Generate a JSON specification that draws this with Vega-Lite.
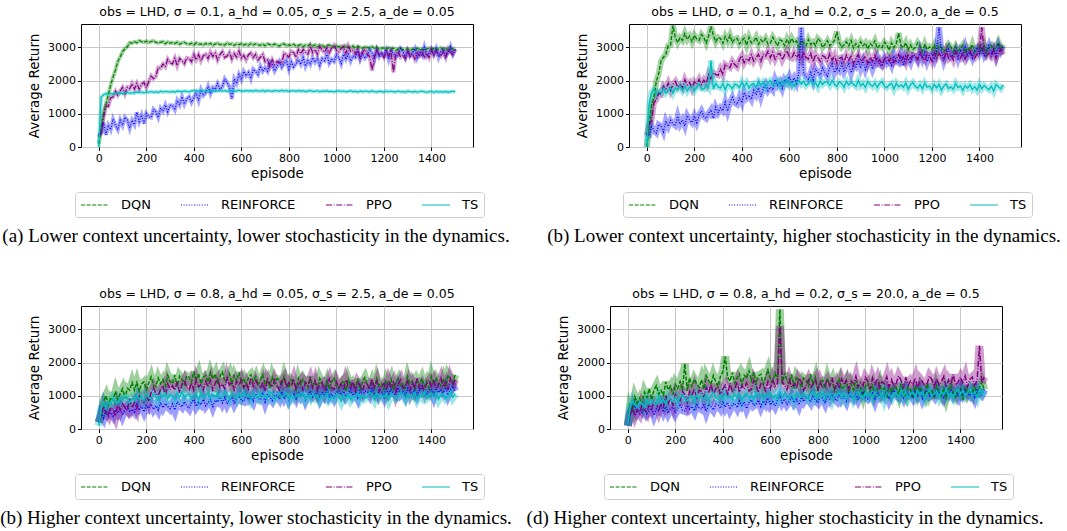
{
"$schema":"https://vega.github.io/schema/vega-lite/v6.json",
"padding":{"left":0,"top":5,"right":0,"bottom":0},
"background":"white",
"datasets":{
"a":[
{"e":0,"D":100,"R":350,"P":300,"T":0},{"e":10,"D":580,"R":425,"P":430,"T":1508},{"e":20,"D":1032,"R":730,"P":910,"T":1568},{"e":30,"D":1292,"R":368,"P":1235,"T":1606},{"e":40,"D":1572,"R":657,"P":1225,"T":1591},{"e":50,"D":1866,"R":520,"P":1480,"T":1602},{"e":60,"D":2104,"R":836,"P":1505,"T":1590},{"e":70,"D":2314,"R":652,"P":1680,"T":1618},{"e":80,"D":2574,"R":518,"P":1560,"T":1606},{"e":90,"D":2708,"R":809,"P":1685,"T":1628},
{"e":100,"D":2870,"R":650,"P":1795,"T":1602},{"e":110,"D":2956,"R":895,"P":1601,"T":1627},{"e":120,"D":3016,"R":815,"P":1797,"T":1640},{"e":130,"D":3136,"R":560,"P":1753,"T":1621},{"e":140,"D":3124,"R":805,"P":1904,"T":1632},{"e":150,"D":3168,"R":675,"P":1740,"T":1623},{"e":160,"D":3138,"R":1045,"P":1910,"T":1656},{"e":170,"D":3198,"R":765,"P":1735,"T":1639},{"e":180,"D":3170,"R":960,"P":1890,"T":1650},{"e":190,"D":3150,"R":705,"P":1940,"T":1631},
{"e":200,"D":3186,"R":1008,"P":1780,"T":1658},{"e":210,"D":3138,"R":912,"P":1965,"T":1648},{"e":220,"D":3175,"R":888,"P":2135,"T":1665},{"e":230,"D":3192,"R":1134,"P":2055,"T":1645},{"e":240,"D":3148,"R":1056,"P":2125,"T":1660},{"e":250,"D":3129,"R":888,"P":2390,"T":1644},{"e":260,"D":3153,"R":1170,"P":2370,"T":1675},{"e":270,"D":3166,"R":1074,"P":2495,"T":1655},{"e":280,"D":3106,"R":1266,"P":2410,"T":1672},{"e":290,"D":3163,"R":1062,"P":2645,"T":1662},
{"e":300,"D":3123,"R":1254,"P":2535,"T":1653},{"e":310,"D":3140,"R":1248,"P":2500,"T":1673},{"e":320,"D":3112,"R":1116,"P":2675,"T":1650},{"e":330,"D":3153,"R":1398,"P":2445,"T":1684},{"e":340,"D":3089,"R":1266,"P":2665,"T":1673},{"e":350,"D":3130,"R":1512,"P":2600,"T":1665},{"e":360,"D":3150,"R":1290,"P":2505,"T":1686},{"e":370,"D":3107,"R":1446,"P":2680,"T":1672},{"e":380,"D":3087,"R":1512,"P":2660,"T":1661},{"e":390,"D":3120,"R":1344,"P":2565,"T":1687},
{"e":400,"D":3076,"R":1500,"P":2785,"T":1698},{"e":410,"D":3131,"R":1620,"P":2625,"T":1671},{"e":420,"D":3091,"R":1398,"P":2780,"T":1686},{"e":430,"D":3102,"R":1716,"P":2590,"T":1676},{"e":440,"D":3069,"R":1548,"P":2745,"T":1697},{"e":450,"D":3117,"R":1632,"P":2795,"T":1672},{"e":460,"D":3084,"R":1824,"P":2660,"T":1685},{"e":470,"D":3119,"R":1602,"P":2855,"T":1696},{"e":480,"D":3059,"R":1794,"P":2720,"T":1668},{"e":490,"D":3102,"R":1734,"P":2825,"T":1693},
{"e":500,"D":3121,"R":1908,"P":2615,"T":1686},{"e":510,"D":3077,"R":1740,"P":2780,"T":1704},{"e":520,"D":3092,"R":1806,"P":2870,"T":1680},{"e":530,"D":3067,"R":2052,"P":2690,"T":1700},{"e":540,"D":3127,"R":1938,"P":2735,"T":1674},{"e":550,"D":3086,"R":1806,"P":2840,"T":1692},{"e":560,"D":3101,"R":1450,"P":2645,"T":1696},{"e":570,"D":3057,"R":2046,"P":2810,"T":1672},{"e":580,"D":3104,"R":1914,"P":2705,"T":1690},{"e":590,"D":3079,"R":2178,"P":2885,"T":1706},
{"e":600,"D":3111,"R":2028,"P":2675,"T":1682},{"e":610,"D":3066,"R":2274,"P":2759,"T":1678},{"e":620,"D":3093,"R":2142,"P":2618,"T":1700},{"e":630,"D":3057,"R":2244,"P":2776,"T":1684},{"e":640,"D":3116,"R":2058,"P":2830,"T":1694},{"e":650,"D":3071,"R":2340,"P":2689,"T":1676},{"e":660,"D":3103,"R":2270,"P":2788,"T":1704},{"e":670,"D":3078,"R":2182,"P":2616,"T":1686},{"e":680,"D":3057,"R":2436,"P":2700,"T":1680},{"e":690,"D":3093,"R":2276,"P":2783,"T":1702},
{"e":700,"D":3044,"R":2386,"P":2565,"T":1670},{"e":710,"D":3107,"R":2280,"P":2618,"T":1698},{"e":720,"D":3081,"R":2552,"P":2415,"T":1688},{"e":730,"D":3060,"R":2482,"P":2627,"T":1674},{"e":740,"D":3098,"R":2286,"P":2480,"T":1696},{"e":750,"D":3065,"R":2414,"P":2572,"T":1692},{"e":760,"D":3039,"R":2568,"P":2545,"T":1678},{"e":770,"D":3086,"R":2398,"P":2525,"T":1706},{"e":780,"D":3104,"R":2498,"P":2820,"T":1682},{"e":790,"D":3047,"R":2616,"P":2770,"T":1700},
{"e":800,"D":3073,"R":2338,"P":2703,"T":1672},{"e":810,"D":3052,"R":2562,"P":2877,"T":1689},{"e":820,"D":3090,"R":2408,"P":2840,"T":1692},{"e":830,"D":3037,"R":2506,"P":2698,"T":1673},{"e":840,"D":3059,"R":2622,"P":2932,"T":1699},{"e":850,"D":3078,"R":2486,"P":2805,"T":1680},{"e":860,"D":3020,"R":2692,"P":2935,"T":1693},{"e":870,"D":3067,"R":2430,"P":2855,"T":1664},{"e":880,"D":3049,"R":2600,"P":2790,"T":1686},{"e":890,"D":3084,"R":2482,"P":3025,"T":1697},
{"e":900,"D":3034,"R":2688,"P":2840,"T":1672},{"e":910,"D":3072,"R":2551,"P":2935,"T":1677},{"e":920,"D":3017,"R":2666,"P":2790,"T":1691},{"e":930,"D":3051,"R":2457,"P":3020,"T":1664},{"e":940,"D":3056,"R":2662,"P":2920,"T":1685},{"e":950,"D":3006,"R":2597,"P":2850,"T":1670},{"e":960,"D":3039,"R":2784,"P":2990,"T":1694},{"e":970,"D":3069,"R":2521,"P":2830,"T":1665},{"e":980,"D":3018,"R":2636,"P":2985,"T":1677},{"e":990,"D":3008,"R":2571,"P":3065,"T":1659},
{"e":1000,"D":3049,"R":2776,"P":2920,"T":1681},{"e":1010,"D":3015,"R":2696,"P":2860,"T":1689},{"e":1020,"D":3032,"R":2508,"P":2965,"T":1670},{"e":1030,"D":2994,"R":2788,"P":3025,"T":1684},{"e":1040,"D":3047,"R":2636,"P":2815,"T":1662},{"e":1050,"D":3009,"R":2790,"P":3040,"T":1673},{"e":1060,"D":2994,"R":2584,"P":2875,"T":1689},{"e":1070,"D":3036,"R":2738,"P":2920,"T":1665},{"e":1080,"D":2969,"R":2694,"P":2800,"T":1676},{"e":1090,"D":3023,"R":2884,"P":2935,"T":1654},
{"e":1100,"D":3000,"R":2642,"P":2680,"T":1684},{"e":1110,"D":2969,"R":2827,"P":2845,"T":1665},{"e":1120,"D":3009,"R":2670,"P":2935,"T":1679},{"e":1130,"D":2998,"R":2747,"P":2785,"T":1677},{"e":1140,"D":2966,"R":2932,"P":2725,"T":1660},{"e":1150,"D":3019,"R":2829,"P":2300,"T":1686},{"e":1160,"D":2967,"R":2636,"P":2710,"T":1666},{"e":1170,"D":3000,"R":2911,"P":2920,"T":1655},{"e":1180,"D":2940,"R":2718,"P":2770,"T":1677},{"e":1190,"D":2973,"R":2831,"P":2815,"T":1671},
{"e":1200,"D":2977,"R":2746,"P":2695,"T":1650},{"e":1210,"D":2938,"R":2910,"P":2870,"T":1680},{"e":1220,"D":2986,"R":2642,"P":2745,"T":1662},{"e":1230,"D":2947,"R":2896,"P":2875,"T":1677},{"e":1240,"D":2971,"R":2826,"P":2250,"T":1665},{"e":1250,"D":2912,"R":2702,"P":2805,"T":1655},{"e":1260,"D":2952,"R":2776,"P":2875,"T":1684},{"e":1270,"D":2973,"R":2958,"P":2705,"T":1658},{"e":1280,"D":2921,"R":2870,"P":2760,"T":1670},{"e":1290,"D":2930,"R":2692,"P":2665,"T":1649},
{"e":1300,"D":2954,"R":2892,"P":2885,"T":1679},{"e":1310,"D":2904,"R":2733,"P":2740,"T":1665},{"e":1320,"D":2949,"R":2826,"P":2805,"T":1654},{"e":1330,"D":2923,"R":2955,"P":2645,"T":1672},{"e":1340,"D":2972,"R":2688,"P":2830,"T":1650},{"e":1350,"D":2918,"R":2871,"P":2745,"T":1669},{"e":1360,"D":2943,"R":2766,"P":2870,"T":1679},{"e":1370,"D":2909,"R":3003,"P":2710,"T":1659},{"e":1380,"D":2954,"R":2736,"P":2820,"T":1650},{"e":1390,"D":2972,"R":2829,"P":2690,"T":1664},
{"e":1400,"D":2937,"R":2940,"P":2920,"T":1672},{"e":1410,"D":2967,"R":2799,"P":2760,"T":1644},{"e":1420,"D":2924,"R":2964,"P":2885,"T":1673},{"e":1430,"D":2950,"R":2697,"P":2800,"T":1655},{"e":1440,"D":2983,"R":2880,"P":2730,"T":1665},{"e":1450,"D":2937,"R":2937,"P":2870,"T":1653},{"e":1460,"D":2962,"R":2742,"P":2695,"T":1674},{"e":1470,"D":2920,"R":2835,"P":2940,"T":1644},{"e":1480,"D":2981,"R":3018,"P":2855,"T":1666},{"e":1490,"D":2947,"R":2787,"P":2785,"T":1678},
{"e":1500,"D":2976,"R":2934,"P":2940,"T":1658}
],
"b":[
{"e":0,"D":0,"R":350,"P":350,"T":0},{"e":10,"D":670,"R":350,"P":664,"T":1304},{"e":20,"D":1260,"R":647,"P":804,"T":1648},{"e":30,"D":1510,"R":485,"P":1328,"T":1725},{"e":40,"D":1970,"R":422,"P":1418,"T":1573},{"e":50,"D":2210,"R":680,"P":1616,"T":1674},{"e":60,"D":2580,"R":640,"P":1588,"T":1628},{"e":70,"D":2700,"R":460,"P":1830,"T":1762},{"e":80,"D":2790,"R":780,"P":1752,"T":1620},{"e":90,"D":3050,"R":620,"P":1921,"T":1706},
{"e":100,"D":3070,"R":800,"P":1706,"T":1780},{"e":110,"D":3650,"R":700,"P":1887,"T":1618},{"e":120,"D":3295,"R":640,"P":1972,"T":1768},{"e":130,"D":3140,"R":925,"P":1801,"T":1726},{"e":140,"D":3285,"R":680,"P":1870,"T":1840},{"e":150,"D":3205,"R":815,"P":1779,"T":1702},{"e":160,"D":3413,"R":630,"P":2024,"T":1828},{"e":170,"D":3231,"R":945,"P":1869,"T":1678},{"e":180,"D":3334,"R":820,"P":1938,"T":1792},{"e":190,"D":3167,"R":735,"P":1767,"T":1822},
{"e":200,"D":3360,"R":930,"P":1964,"T":1684},{"e":210,"D":3253,"R":735,"P":1888,"T":1796},{"e":220,"D":3206,"R":960,"P":2036,"T":1896},{"e":230,"D":3384,"R":1085,"P":1880,"T":1756},{"e":240,"D":3292,"R":910,"P":2012,"T":1736},{"e":250,"D":3125,"R":855,"P":1888,"T":1872},{"e":260,"D":3333,"R":1020,"P":2178,"T":1780},{"e":270,"D":3626,"R":1125,"P":2052,"T":2600},{"e":280,"D":3359,"R":870,"P":2230,"T":1740},{"e":290,"D":3162,"R":1195,"P":2184,"T":1912},
{"e":300,"D":3295,"R":1040,"P":2154,"T":1808},{"e":310,"D":3260,"R":1175,"P":2338,"T":1775},{"e":320,"D":3120,"R":1090,"P":2186,"T":1910},{"e":330,"D":3325,"R":1345,"P":2482,"T":1721},{"e":340,"D":3185,"R":1080,"P":2426,"T":1892},{"e":350,"D":3360,"R":1335,"P":2386,"T":1835},{"e":360,"D":3145,"R":1490,"P":2576,"T":1754},{"e":370,"D":3245,"R":1325,"P":2478,"T":1889},{"e":380,"D":3270,"R":1280,"P":2412,"T":1868},{"e":390,"D":3100,"R":1495,"P":2634,"T":1787},
{"e":400,"D":3200,"R":1330,"P":2744,"T":1958},{"e":410,"D":3273,"R":1640,"P":2535,"T":1819},{"e":420,"D":3060,"R":1470,"P":2662,"T":1932},{"e":430,"D":3298,"R":1560,"P":2597,"T":1769},{"e":440,"D":3130,"R":1430,"P":2772,"T":1882},{"e":450,"D":3173,"R":1700,"P":2579,"T":1911},{"e":460,"D":3305,"R":1570,"P":2690,"T":1808},{"e":470,"D":3093,"R":1780,"P":2785,"T":1969},{"e":480,"D":3225,"R":1510,"P":2576,"T":1866},{"e":490,"D":3148,"R":1760,"P":2783,"T":1955},
{"e":500,"D":3265,"R":1890,"P":2734,"T":1792},{"e":510,"D":3098,"R":1695,"P":2878,"T":1926},{"e":520,"D":3125,"R":1800,"P":2686,"T":2000},{"e":530,"D":3303,"R":1705,"P":2846,"T":1858},{"e":540,"D":3180,"R":2030,"P":2638,"T":1896},{"e":550,"D":3043,"R":1855,"P":2782,"T":1982},{"e":560,"D":3220,"R":1960,"P":2814,"T":1828},{"e":570,"D":3188,"R":1765,"P":2622,"T":1962},{"e":580,"D":3050,"R":2030,"P":2766,"T":1880},{"e":590,"D":3243,"R":1935,"P":2894,"T":2026},
{"e":600,"D":3090,"R":2120,"P":2702,"T":1860},{"e":610,"D":3268,"R":1920,"P":2665,"T":1932},{"e":620,"D":3130,"R":2080,"P":2836,"T":1823},{"e":630,"D":3188,"R":1920,"P":2703,"T":1955},{"e":640,"D":3005,"R":2240,"P":2778,"T":2002},{"e":650,"D":3213,"R":3600,"P":2629,"T":1894},{"e":660,"D":3135,"R":2220,"P":2848,"T":1977},{"e":670,"D":3043,"R":2120,"P":2699,"T":1845},{"e":680,"D":3235,"R":2040,"P":2646,"T":1916},{"e":690,"D":3083,"R":2240,"P":2817,"T":2012},
{"e":700,"D":3155,"R":2020,"P":2556,"T":1867},{"e":710,"D":3048,"R":2355,"P":2775,"T":1938},{"e":720,"D":3255,"R":2250,"P":2690,"T":1806},{"e":730,"D":3178,"R":2165,"P":2573,"T":1985},{"e":740,"D":2995,"R":2380,"P":2744,"T":1877},{"e":750,"D":3083,"R":2235,"P":2707,"T":1960},{"e":760,"D":3200,"R":2130,"P":2590,"T":1948},{"e":770,"D":3048,"R":2385,"P":2809,"T":1851},{"e":780,"D":3120,"R":2500,"P":2612,"T":2007},{"e":790,"D":3208,"R":2235,"P":2751,"T":1886},
{"e":800,"D":3465,"R":2390,"P":2522,"T":1826},{"e":810,"D":3143,"R":2300,"P":2666,"T":1956},{"e":820,"D":3005,"R":2510,"P":2698,"T":1918},{"e":830,"D":3078,"R":2260,"P":2554,"T":1796},{"e":840,"D":3165,"R":2390,"P":2762,"T":1974},{"e":850,"D":3043,"R":2500,"P":2618,"T":1864},{"e":860,"D":3205,"R":2230,"P":2730,"T":1958},{"e":870,"D":2978,"R":2480,"P":2506,"T":1884},{"e":880,"D":3110,"R":2410,"P":2682,"T":1822},{"e":890,"D":3003,"R":2600,"P":2778,"T":2000},
{"e":900,"D":3165,"R":2370,"P":2586,"T":1842},{"e":910,"D":3043,"R":2580,"P":2629,"T":1912},{"e":920,"D":3130,"R":2330,"P":2736,"T":1790},{"e":930,"D":2948,"R":2520,"P":2523,"T":1968},{"e":940,"D":3110,"R":2570,"P":2694,"T":1882},{"e":950,"D":3048,"R":2340,"P":2577,"T":1820},{"e":960,"D":3195,"R":2530,"P":2764,"T":1926},{"e":970,"D":2968,"R":2700,"P":2535,"T":1792},{"e":980,"D":3055,"R":2470,"P":2626,"T":1910},{"e":990,"D":2993,"R":2440,"P":2477,"T":1968},
{"e":1000,"D":3155,"R":2670,"P":2648,"T":1836},{"e":1010,"D":3077,"R":2520,"P":2722,"T":1786},{"e":1020,"D":2908,"R":2630,"P":2588,"T":1868},{"e":1030,"D":3130,"R":2460,"P":2710,"T":1914},{"e":1040,"D":2991,"R":2750,"P":2544,"T":1744},{"e":1050,"D":3108,"R":2580,"P":2650,"T":1922},{"e":1060,"D":3424,"R":2530,"P":2788,"T":1812},{"e":1070,"D":3041,"R":2760,"P":2606,"T":1870},{"e":1080,"D":2992,"R":2450,"P":2712,"T":1796},{"e":1090,"D":3139,"R":2740,"P":2546,"T":1926},
{"e":1100,"D":2925,"R":2650,"P":2796,"T":1744},{"e":1110,"D":3072,"R":2520,"P":2654,"T":1874},{"e":1120,"D":2933,"R":2750,"P":2769,"T":1944},{"e":1130,"D":2990,"R":2720,"P":2755,"T":1822},{"e":1140,"D":3136,"R":2590,"P":2630,"T":1772},{"e":1150,"D":3043,"R":2880,"P":2840,"T":1878},{"e":1160,"D":2874,"R":2650,"P":2683,"T":1756},{"e":1170,"D":3096,"R":2840,"P":2605,"T":1922},{"e":1180,"D":2927,"R":2570,"P":2784,"T":1800},{"e":1190,"D":3014,"R":2760,"P":2738,"T":1834},
{"e":1200,"D":2935,"R":2810,"P":2581,"T":1736},{"e":1210,"D":3069,"R":2635,"P":2823,"T":1878},{"e":1220,"D":2842,"R":2900,"P":2682,"T":1781},{"e":1230,"D":3051,"R":3600,"P":2812,"T":1887},{"e":1240,"D":2989,"R":2870,"P":2719,"T":1706},{"e":1250,"D":2883,"R":2595,"P":2641,"T":1836},{"e":1260,"D":2941,"R":2820,"P":2884,"T":1895},{"e":1270,"D":3090,"R":2945,"P":2678,"T":1761},{"e":1280,"D":3013,"R":2710,"P":2777,"T":1808},{"e":1290,"D":2862,"R":2775,"P":2619,"T":1734},
{"e":1300,"D":3025,"R":2920,"P":2862,"T":1913},{"e":1310,"D":2889,"R":2665,"P":2752,"T":1791},{"e":1320,"D":2962,"R":2890,"P":2675,"T":1838},{"e":1330,"D":3066,"R":2755,"P":2821,"T":1704},{"e":1340,"D":2839,"R":3000,"P":2648,"T":1847},{"e":1350,"D":2988,"R":2725,"P":2810,"T":1773},{"e":1360,"D":2896,"R":2850,"P":2893,"T":1868},{"e":1370,"D":3090,"R":2675,"P":2735,"T":1734},{"e":1380,"D":2863,"R":2900,"P":2674,"T":1817},{"e":1390,"D":2937,"R":2985,"P":2788,"T":1707},
{"e":1400,"D":3025,"R":2810,"P":2855,"T":1886},{"e":1410,"D":2915,"R":2960,"P":3600,"T":1755},{"e":1420,"D":3060,"R":2750,"P":2876,"T":1852},{"e":1430,"D":2845,"R":2880,"P":2734,"T":1781},{"e":1440,"D":3005,"R":3050,"P":2817,"T":1722},{"e":1450,"D":3060,"R":2820,"P":2723,"T":1831},{"e":1460,"D":2905,"R":2950,"P":2902,"T":1688},{"e":1470,"D":2990,"R":2740,"P":2664,"T":1881},{"e":1480,"D":3150,"R":3050,"P":2843,"T":1810},{"e":1490,"D":2965,"R":2880,"P":2941,"T":1751},
{"e":1500,"D":3095,"R":3030,"P":2784,"T":1872}
],
"c":[
{"e":0,"D":200,"R":200,"P":200,"T":100},{"e":10,"D":424,"R":460,"P":390,"T":611},{"e":20,"D":838,"R":330,"P":688,"T":798},{"e":30,"D":998,"R":560,"P":481,"T":630},{"e":40,"D":740,"R":430,"P":383,"T":799},{"e":50,"D":944,"R":495,"P":638,"T":748},{"e":60,"D":874,"R":389,"P":592,"T":920},{"e":70,"D":1134,"R":583,"P":392,"T":832},{"e":80,"D":888,"R":477,"P":742,"T":770},{"e":90,"D":1060,"R":626,"P":564,"T":929},
{"e":100,"D":1210,"R":415,"P":760,"T":854},{"e":110,"D":932,"R":590,"P":648,"T":978},{"e":120,"D":1226,"R":675,"P":558,"T":933},{"e":130,"D":1168,"R":520,"P":908,"T":797},{"e":140,"D":1396,"R":590,"P":642,"T":921},{"e":150,"D":1162,"R":510,"P":794,"T":850},{"e":160,"D":1402,"R":745,"P":614,"T":1039},{"e":170,"D":1136,"R":605,"P":984,"T":890},{"e":180,"D":1354,"R":675,"P":870,"T":988},{"e":190,"D":1418,"R":520,"P":800,"T":852},
{"e":200,"D":1174,"R":710,"P":1038,"T":1028},{"e":210,"D":1382,"R":625,"P":836,"T":942},{"e":220,"D":1568,"R":750,"P":1096,"T":908},{"e":230,"D":1314,"R":590,"P":1246,"T":1069},{"e":240,"D":1280,"R":700,"P":1066,"T":996},{"e":250,"D":1532,"R":570,"P":1018,"T":858},{"e":260,"D":1366,"R":800,"P":1192,"T":1045},{"e":270,"D":1486,"R":640,"P":1300,"T":959},{"e":280,"D":1298,"R":765,"P":1012,"T":1081},{"e":290,"D":1616,"R":680,"P":1362,"T":917},
{"e":300,"D":1428,"R":610,"P":1184,"T":1039},{"e":310,"D":1370,"R":750,"P":1299,"T":1013},{"e":320,"D":1620,"R":575,"P":1172,"T":896},{"e":330,"D":1276,"R":820,"P":1419,"T":1078},{"e":340,"D":1592,"R":735,"P":1094,"T":961},{"e":350,"D":1490,"R":665,"P":1341,"T":1117},{"e":360,"D":1344,"R":820,"P":1478,"T":935},{"e":370,"D":1594,"R":705,"P":1263,"T":1026},{"e":380,"D":1558,"R":620,"P":1180,"T":1052},{"e":390,"D":1412,"R":805,"P":1383,"T":909},
{"e":400,"D":1728,"R":885,"P":1168,"T":1000},{"e":410,"D":1466,"R":683,"P":1481,"T":1065},{"e":420,"D":1666,"R":796,"P":1266,"T":883},{"e":430,"D":1360,"R":729,"P":1337,"T":1091},{"e":440,"D":1560,"R":887,"P":1166,"T":948},{"e":450,"D":1606,"R":700,"P":1435,"T":987},{"e":460,"D":1410,"R":798,"P":1264,"T":1104},{"e":470,"D":1698,"R":881,"P":1467,"T":922},{"e":480,"D":1502,"R":679,"P":1142,"T":1039},{"e":490,"D":1658,"R":867,"P":1389,"T":974},
{"e":500,"D":1352,"R":815,"P":1504,"T":1078},{"e":510,"D":1589,"R":957,"P":1262,"T":935},{"e":520,"D":1716,"R":784,"P":1350,"T":961},{"e":530,"D":1447,"R":941,"P":1218,"T":1117},{"e":540,"D":1508,"R":753,"P":1548,"T":1013},{"e":550,"D":1657,"R":895,"P":1328,"T":896},{"e":560,"D":1366,"R":932,"P":1416,"T":1052},{"e":570,"D":1603,"R":759,"P":1174,"T":1026},{"e":580,"D":1444,"R":901,"P":1438,"T":909},{"e":590,"D":1703,"R":1028,"P":1306,"T":1078},
{"e":600,"D":1390,"R":855,"P":1482,"T":948},{"e":610,"D":1517,"R":830,"P":1240,"T":1104},{"e":620,"D":1314,"R":1000,"P":1394,"T":987},{"e":630,"D":1551,"R":885,"P":1196,"T":1039},{"e":640,"D":1634,"R":965,"P":1526,"T":883},{"e":650,"D":1431,"R":835,"P":1284,"T":1065},{"e":660,"D":1580,"R":1050,"P":1460,"T":1000},{"e":670,"D":1333,"R":920,"P":1328,"T":922},{"e":680,"D":1460,"R":880,"P":1218,"T":1091},{"e":690,"D":1631,"R":1050,"P":1416,"T":961},
{"e":700,"D":1362,"R":815,"P":1152,"T":1026},{"e":710,"D":1489,"R":1030,"P":1504,"T":935},{"e":720,"D":1242,"R":960,"P":1372,"T":1117},{"e":730,"D":1567,"R":860,"P":1262,"T":1052},{"e":740,"D":1364,"R":1030,"P":1482,"T":896},{"e":750,"D":1513,"R":1005,"P":1306,"T":974},{"e":760,"D":1486,"R":905,"P":1174,"T":1078},{"e":770,"D":1305,"R":1120,"P":1438,"T":948},{"e":780,"D":1586,"R":945,"P":1548,"T":1013},{"e":790,"D":1361,"R":1085,"P":1240,"T":1091},
{"e":800,"D":1246,"R":880,"P":1394,"T":883},{"e":810,"D":1486,"R":1017,"P":1282,"T":1037},{"e":820,"D":1417,"R":1050,"P":1499,"T":918},{"e":830,"D":1195,"R":917,"P":1211,"T":981},{"e":840,"D":1522,"R":1115,"P":1340,"T":1057},{"e":850,"D":1322,"R":982,"P":1448,"T":951},{"e":860,"D":1495,"R":1090,"P":1137,"T":1092},{"e":870,"D":1361,"R":882,"P":1399,"T":895},{"e":880,"D":1248,"R":1050,"P":1308,"T":1010},{"e":890,"D":1576,"R":1142,"P":1504,"T":917},
{"e":900,"D":1287,"R":965,"P":1237,"T":1058},{"e":910,"D":1417,"R":1012,"P":1455,"T":952},{"e":920,"D":1194,"R":1120,"P":1166,"T":1028},{"e":930,"D":1522,"R":927,"P":1362,"T":870},{"e":940,"D":1365,"R":1095,"P":1403,"T":1011},{"e":950,"D":1253,"R":992,"P":1137,"T":957},{"e":960,"D":1448,"R":1175,"P":1332,"T":1085},{"e":970,"D":1204,"R":967,"P":1506,"T":888},{"e":980,"D":1421,"R":1060,"P":1239,"T":964},{"e":990,"D":1529,"R":927,"P":1193,"T":910},
{"e":1000,"D":1306,"R":1095,"P":1432,"T":1051},{"e":1010,"D":1218,"R":1157,"P":1256,"T":988},{"e":1020,"D":1372,"R":1025,"P":1366,"T":847},{"e":1030,"D":1460,"R":1132,"P":1168,"T":1044},{"e":1040,"D":1152,"R":970,"P":1476,"T":929},{"e":1050,"D":1482,"R":1062,"P":1278,"T":1035},{"e":1060,"D":1284,"R":1185,"P":1212,"T":881},{"e":1070,"D":1394,"R":1007,"P":1454,"T":987},{"e":1080,"D":1262,"R":1100,"P":1102,"T":950},{"e":1090,"D":1504,"R":937,"P":1410,"T":1082},
{"e":1100,"D":1174,"R":1165,"P":1300,"T":902},{"e":1110,"D":1416,"R":1032,"P":1146,"T":1034},{"e":1120,"D":1548,"R":1140,"P":1388,"T":919},{"e":1130,"D":1328,"R":1127,"P":1344,"T":973},{"e":1140,"D":1240,"R":1010,"P":1190,"T":1105},{"e":1150,"D":1438,"R":1207,"P":1498,"T":1029},{"e":1160,"D":1218,"R":1060,"P":1234,"T":888},{"e":1170,"D":1526,"R":987,"P":1432,"T":1085},{"e":1180,"D":1306,"R":1155,"P":1124,"T":944},{"e":1190,"D":1372,"R":1112,"P":1322,"T":1024},
{"e":1200,"D":1196,"R":965,"P":1366,"T":961},{"e":1210,"D":1462,"R":1192,"P":1169,"T":1079},{"e":1220,"D":1289,"R":1058,"P":1456,"T":884},{"e":1230,"D":1489,"R":1180,"P":1259,"T":1067},{"e":1240,"D":1162,"R":1092,"P":1414,"T":1015},{"e":1250,"D":1406,"R":1018,"P":1107,"T":925},{"e":1260,"D":1519,"R":1245,"P":1350,"T":977},{"e":1270,"D":1279,"R":1052,"P":1483,"T":1108},{"e":1280,"D":1370,"R":1143,"P":1220,"T":1043},{"e":1290,"D":1240,"R":995,"P":1287,"T":914},
{"e":1300,"D":1573,"R":1222,"P":1442,"T":1058},{"e":1310,"D":1355,"R":1118,"P":1157,"T":941},{"e":1320,"D":1446,"R":1045,"P":1400,"T":1007},{"e":1330,"D":1206,"R":1182,"P":1247,"T":1099},{"e":1340,"D":1473,"R":1018,"P":1512,"T":904},{"e":1350,"D":1343,"R":1170,"P":1205,"T":1035},{"e":1360,"D":1522,"R":1247,"P":1338,"T":958},{"e":1370,"D":1282,"R":1098,"P":1141,"T":1127},{"e":1380,"D":1439,"R":1040,"P":1384,"T":933},{"e":1390,"D":1243,"R":1147,"P":1473,"T":999},
{"e":1400,"D":1576,"R":1208,"P":1276,"T":1077},{"e":1410,"D":1344,"R":1000,"P":1438,"T":974},{"e":1420,"D":1530,"R":1227,"P":1204,"T":1092},{"e":1430,"D":1408,"R":1093,"P":1344,"T":897},{"e":1440,"D":1308,"R":1170,"P":1528,"T":1028},{"e":1450,"D":1516,"R":1082,"P":1272,"T":1068},{"e":1460,"D":1262,"R":1248,"P":1412,"T":925},{"e":1470,"D":1624,"R":1025,"P":1178,"T":991},{"e":1480,"D":1502,"R":1192,"P":1516,"T":1122},{"e":1490,"D":1402,"R":1283,"P":1326,"T":954},
{"e":1500,"D":1632,"R":1135,"P":1488,"T":1059}
],
"d":[
{"e":0,"D":100,"R":100,"P":100,"T":100},{"e":10,"D":700,"R":480,"P":434,"T":680},{"e":20,"D":550,"R":647,"P":644,"T":862},{"e":30,"D":967,"R":710,"P":400,"T":722},{"e":40,"D":783,"R":487,"P":581,"T":652},{"e":50,"D":925,"R":580,"P":462,"T":806},{"e":60,"D":765,"R":505,"P":746,"T":774},{"e":70,"D":1105,"R":655,"P":590,"T":644},{"e":80,"D":945,"R":460,"P":478,"T":864},{"e":90,"D":1210,"R":550,"P":740,"T":748},
{"e":100,"D":875,"R":625,"P":606,"T":870},{"e":110,"D":1165,"R":420,"P":829,"T":796},{"e":120,"D":1305,"R":605,"P":766,"T":736},{"e":130,"D":1045,"R":550,"P":549,"T":956},{"e":140,"D":1160,"R":690,"P":772,"T":784},{"e":150,"D":1025,"R":515,"P":665,"T":878},{"e":160,"D":1415,"R":670,"P":998,"T":748},{"e":170,"D":1180,"R":480,"P":759,"T":968},{"e":180,"D":1295,"R":620,"P":938,"T":880},{"e":190,"D":1035,"R":655,"P":721,"T":820},
{"e":200,"D":1350,"R":480,"P":1032,"T":956},{"e":210,"D":1215,"R":620,"P":898,"T":807},{"e":220,"D":1430,"R":745,"P":852,"T":952},{"e":230,"D":1170,"R":570,"P":1136,"T":1027},{"e":240,"D":1960,"R":545,"P":1024,"T":892},{"e":250,"D":1150,"R":715,"P":802,"T":841},{"e":260,"D":1540,"R":600,"P":1130,"T":944},{"e":270,"D":1280,"R":680,"P":996,"T":1005},{"e":280,"D":1495,"R":550,"P":1214,"T":814},{"e":290,"D":1360,"R":765,"P":948,"T":1029},
{"e":300,"D":1250,"R":635,"P":1166,"T":908},{"e":310,"D":1485,"R":595,"P":1132,"T":980},{"e":320,"D":1195,"R":765,"P":944,"T":897},{"e":330,"D":1605,"R":530,"P":1262,"T":1053},{"e":340,"D":1465,"R":745,"P":1074,"T":845},{"e":350,"D":1350,"R":675,"P":1348,"T":1000},{"e":360,"D":1610,"R":575,"P":1050,"T":1086},{"e":370,"D":1420,"R":745,"P":1214,"T":948},{"e":380,"D":1280,"R":720,"P":1268,"T":893},{"e":390,"D":1590,"R":620,"P":1036,"T":1021},
{"e":400,"D":1725,"R":835,"P":1200,"T":883},{"e":410,"D":2180,"R":660,"P":1315,"T":1080},{"e":420,"D":1560,"R":800,"P":1012,"T":942},{"e":430,"D":1440,"R":595,"P":1369,"T":986},{"e":440,"D":1695,"R":735,"P":1132,"T":875},{"e":450,"D":1375,"R":770,"P":1203,"T":1045},{"e":460,"D":1530,"R":640,"P":1406,"T":935},{"e":470,"D":1660,"R":840,"P":1103,"T":1062},{"e":480,"D":1315,"R":710,"P":1306,"T":854},{"e":490,"D":1620,"R":820,"P":1201,"T":1010},
{"e":500,"D":1525,"R":615,"P":1382,"T":1081},{"e":510,"D":1750,"R":785,"P":1145,"T":929},{"e":520,"D":1450,"R":880,"P":1194,"T":987},{"e":530,"D":1700,"R":705,"P":1463,"T":904},{"e":540,"D":1375,"R":755,"P":1292,"T":1116},{"e":550,"D":1600,"R":865,"P":1099,"T":978},{"e":560,"D":1650,"R":675,"P":1368,"T":1035},{"e":570,"D":1350,"R":845,"P":1329,"T":883},{"e":580,"D":1575,"R":745,"P":1136,"T":1053},{"e":590,"D":1775,"R":930,"P":1427,"T":970},
{"e":600,"D":1475,"R":725,"P":1212,"T":1084},{"e":610,"D":1415,"R":820,"P":1478,"T":930},{"e":620,"D":1680,"R":690,"P":1283,"T":1028},{"e":630,"D":1470,"R":860,"P":1373,"T":902},{"e":640,"D":3600,"R":1000,"P":3100,"T":1112},{"e":650,"D":1350,"R":795,"P":1422,"T":958},{"e":660,"D":1690,"R":905,"P":1315,"T":1070},{"e":670,"D":1455,"R":745,"P":1185,"T":986},{"e":680,"D":1370,"R":840,"P":1474,"T":916},{"e":690,"D":1635,"R":965,"P":1256,"T":1042},
{"e":700,"D":1225,"R":790,"P":1369,"T":874},{"e":710,"D":1570,"R":885,"P":1217,"T":1098},{"e":720,"D":1440,"R":725,"P":1528,"T":1014},{"e":730,"D":1260,"R":955,"P":1420,"T":944},{"e":740,"D":1530,"R":825,"P":1159,"T":1084},{"e":750,"D":1475,"R":935,"P":1293,"T":972},{"e":760,"D":1295,"R":925,"P":1472,"T":888},{"e":770,"D":1640,"R":810,"P":1254,"T":1056},{"e":780,"D":1335,"R":1010,"P":1367,"T":1126},{"e":790,"D":1555,"R":865,"P":1501,"T":930},
{"e":800,"D":1200,"R":795,"P":1152,"T":1028},{"e":810,"D":1415,"R":965,"P":1418,"T":958},{"e":820,"D":1455,"R":925,"P":1223,"T":1098},{"e":830,"D":1220,"R":780,"P":1335,"T":916},{"e":840,"D":1535,"R":1010,"P":1470,"T":1000},{"e":850,"D":1300,"R":880,"P":1296,"T":1070},{"e":860,"D":1465,"R":1005,"P":1541,"T":874},{"e":870,"D":1105,"R":920,"P":1213,"T":1042},{"e":880,"D":1370,"R":850,"P":1414,"T":986},{"e":890,"D":1510,"R":1080,"P":1262,"T":1112},
{"e":900,"D":1200,"R":890,"P":1507,"T":944},{"e":910,"D":1265,"R":985,"P":1333,"T":1084},{"e":920,"D":1430,"R":840,"P":1468,"T":902},{"e":930,"D":1095,"R":1070,"P":1206,"T":1028},{"e":940,"D":1360,"R":970,"P":1451,"T":1056},{"e":950,"D":1175,"R":900,"P":1365,"T":888},{"e":960,"D":1465,"R":1040,"P":1588,"T":1014},{"e":970,"D":1105,"R":880,"P":1260,"T":1126},{"e":980,"D":1245,"R":1035,"P":1395,"T":958},{"e":990,"D":1010,"R":1115,"P":1309,"T":930},
{"e":1000,"D":1275,"R":970,"P":1554,"T":1084},{"e":1010,"D":1373,"R":912,"P":1444,"T":974},{"e":1020,"D":1145,"R":1020,"P":1202,"T":1047},{"e":1030,"D":1318,"R":1082,"P":1532,"T":923},{"e":1040,"D":1040,"R":875,"P":1334,"T":1122},{"e":1050,"D":1188,"R":1102,"P":1510,"T":998},{"e":1060,"D":1385,"R":970,"P":1246,"T":959},{"e":1070,"D":1083,"R":1047,"P":1422,"T":1115},{"e":1080,"D":1230,"R":960,"P":1356,"T":894},{"e":1090,"D":953,"R":1127,"P":1576,"T":1092},
{"e":1100,"D":1325,"R":905,"P":1268,"T":1025},{"e":1110,"D":1098,"R":1072,"P":1488,"T":929},{"e":1120,"D":1270,"R":1165,"P":1290,"T":1086},{"e":1130,"D":1243,"R":1017,"P":1378,"T":1060},{"e":1140,"D":1040,"R":960,"P":1598,"T":965},{"e":1150,"D":1363,"R":1097,"P":1466,"T":1163},{"e":1160,"D":1110,"R":950,"P":1224,"T":998},{"e":1170,"D":983,"R":1162,"P":1554,"T":1126},{"e":1180,"D":1255,"R":1015,"P":1312,"T":933},{"e":1190,"D":1178,"R":1062,"P":1444,"T":1061},
{"e":1200,"D":925,"R":945,"P":1334,"T":1092},{"e":1210,"D":1298,"R":1127,"P":1534,"T":968},{"e":1220,"D":1070,"R":1008,"P":1207,"T":1151},{"e":1230,"D":1268,"R":1145,"P":1517,"T":1027},{"e":1240,"D":1115,"R":922,"P":1432,"T":1127},{"e":1250,"D":988,"R":1088,"P":1280,"T":932},{"e":1260,"D":1360,"R":1165,"P":1371,"T":1088},{"e":1270,"D":1033,"R":1002,"P":1593,"T":1174},{"e":1280,"D":1180,"R":1063,"P":1486,"T":1007},{"e":1290,"D":928,"R":975,"P":1268,"T":1051},
{"e":1300,"D":1300,"R":1202,"P":1513,"T":1151},{"e":1310,"D":1123,"R":1053,"P":1317,"T":970},{"e":1320,"D":995,"R":1115,"P":1430,"T":1126},{"e":1330,"D":1218,"R":952,"P":1586,"T":1030},{"e":1340,"D":940,"R":1133,"P":1259,"T":1199},{"e":1350,"D":1188,"R":1045,"P":1481,"T":1005},{"e":1360,"D":1310,"R":1167,"P":1352,"T":1091},{"e":1370,"D":1058,"R":1003,"P":1640,"T":966},{"e":1380,"D":955,"R":1110,"P":1313,"T":1122},{"e":1390,"D":1128,"R":977,"P":1425,"T":1180},
{"e":1400,"D":1225,"R":1203,"P":1560,"T":1055},{"e":1410,"D":885,"R":1040,"P":1389,"T":1155},{"e":1420,"D":1270,"R":1162,"P":1592,"T":1003},{"e":1430,"D":1055,"R":1073,"P":1267,"T":1088},{"e":1440,"D":1190,"R":1000,"P":1492,"T":1202},{"e":1450,"D":1050,"R":1137,"P":1563,"T":1036},{"e":1460,"D":1335,"R":958,"P":1326,"T":1121},{"e":1470,"D":970,"R":1200,"P":1441,"T":969},{"e":1480,"D":1255,"R":1112,"P":2500,"T":1181},{"e":1490,"D":1415,"R":1038,"P":1385,"T":1056},
{"e":1500,"D":1175,"R":1190,"P":1566,"T":1156}
]
},
"vconcat":[
{"hconcat":[
{"vconcat":[{
"width":392,"height":123,
"title":{"text":"obs = LHD, σ = 0.1, a_hd = 0.05, σ_s = 2.5, a_de = 0.05"},
"data":{"name":"a"},
"transform":[{"fold":["D","R","P","T"],"as":["k","v"]}],
"encoding":{
"x":{"field":"e","type":"quantitative","scale":{"domain":[-75,1575],"nice":false,"zero":false},"axis":{"values":[0,200,400,600,800,1000,1200,1400],"title":"episode"}},
"y":{"field":"v","type":"quantitative","scale":{"domain":[0,3700],"nice":false},"axis":{"values":[0,1000,2000,3000],"title":"Average Return"}},
"color":{"field":"k","type":"nominal","scale":{"domain":["D","R","P","T"],"range":["#008000","#0000ff","#800080","#00bfbf"]},"legend":{"title":null,"orient":"none","legendX":-6,"legendY":168,"direction":"horizontal","columns":4,"labelExpr":"datum.label=='D'?'DQN':datum.label=='R'?'REINFORCE':datum.label=='P'?'PPO':'TS'"}}
},
"layer":[
{"mark":{"type":"line","strokeWidth":4,"opacity":0.35,"clip":true}},
{"mark":{"type":"line","strokeWidth":1.2,"clip":true},"encoding":{"strokeDash":{"field":"k","type":"nominal","scale":{"domain":["D","R","P","T"],"range":[[4,1.6],[1,1.6],[6,1.6,1,1.6],[1,0]]},"legend":{"title":null,"orient":"none","legendX":-6,"legendY":168,"direction":"horizontal","columns":4,"labelExpr":"datum.label=='D'?'DQN':datum.label=='R'?'REINFORCE':datum.label=='P'?'PPO':'TS'"}}}}
]}],
"title":{"text":"(a) Lower context uncertainty, lower stochasticity in the dynamics.","orient":"bottom","font":"Liberation Serif","fontSize":19,"anchor":"middle","frame":"bounds","offset":9},
"resolve":{"scale":{"color":"independent","strokeDash":"independent"},"legend":{"color":"independent","strokeDash":"independent"}}},
{"vconcat":[{
"width":392,"height":123,
"title":{"text":"obs = LHD, σ = 0.1, a_hd = 0.2, σ_s = 20.0, a_de = 0.5"},
"data":{"name":"b"},
"transform":[{"fold":["D","R","P","T"],"as":["k","v"]}],
"encoding":{
"x":{"field":"e","type":"quantitative","scale":{"domain":[-75,1575],"nice":false,"zero":false},"axis":{"values":[0,200,400,600,800,1000,1200,1400],"title":"episode"}},
"y":{"field":"v","type":"quantitative","scale":{"domain":[0,3700],"nice":false},"axis":{"values":[0,1000,2000,3000],"title":"Average Return"}},
"color":{"field":"k","type":"nominal","scale":{"domain":["D","R","P","T"],"range":["#008000","#0000ff","#800080","#00bfbf"]},"legend":{"title":null,"orient":"none","legendX":-6,"legendY":168,"direction":"horizontal","columns":4,"labelExpr":"datum.label=='D'?'DQN':datum.label=='R'?'REINFORCE':datum.label=='P'?'PPO':'TS'"}}
},
"layer":[
{"mark":{"type":"line","strokeWidth":6,"opacity":0.35,"clip":true}},
{"mark":{"type":"line","strokeWidth":1.4,"clip":true},"encoding":{"strokeDash":{"field":"k","type":"nominal","scale":{"domain":["D","R","P","T"],"range":[[4,1.6],[1,1.6],[6,1.6,1,1.6],[1,0]]},"legend":{"title":null,"orient":"none","legendX":-6,"legendY":168,"direction":"horizontal","columns":4,"labelExpr":"datum.label=='D'?'DQN':datum.label=='R'?'REINFORCE':datum.label=='P'?'PPO':'TS'"}}}}
]}],
"title":{"text":"(b) Lower context uncertainty, higher stochasticity in the dynamics.","orient":"bottom","font":"Liberation Serif","fontSize":19,"anchor":"middle","frame":"bounds","offset":9},
"resolve":{"scale":{"color":"independent","strokeDash":"independent"},"legend":{"color":"independent","strokeDash":"independent"}}}
],"spacing":37,"resolve":{"scale":{"color":"independent","strokeDash":"independent"},"legend":{"color":"independent","strokeDash":"independent"}}},
{"hconcat":[
{"vconcat":[{
"width":392,"height":123,
"title":{"text":"obs = LHD, σ = 0.8, a_hd = 0.05, σ_s = 2.5, a_de = 0.05"},
"data":{"name":"c"},
"transform":[{"fold":["D","R","P","T"],"as":["k","v"]}],
"encoding":{
"x":{"field":"e","type":"quantitative","scale":{"domain":[-75,1575],"nice":false,"zero":false},"axis":{"values":[0,200,400,600,800,1000,1200,1400],"title":"episode"}},
"y":{"field":"v","type":"quantitative","scale":{"domain":[0,3700],"nice":false},"axis":{"values":[0,1000,2000,3000],"title":"Average Return"}},
"color":{"field":"k","type":"nominal","scale":{"domain":["D","R","P","T"],"range":["#008000","#0000ff","#800080","#00bfbf"]},"legend":{"title":null,"orient":"none","legendX":-6,"legendY":168,"direction":"horizontal","columns":4,"labelExpr":"datum.label=='D'?'DQN':datum.label=='R'?'REINFORCE':datum.label=='P'?'PPO':'TS'"}}
},
"layer":[
{"mark":{"type":"line","strokeWidth":8,"opacity":0.38,"clip":true}},
{"mark":{"type":"line","strokeWidth":1.5,"clip":true},"encoding":{"strokeDash":{"field":"k","type":"nominal","scale":{"domain":["D","R","P","T"],"range":[[4,1.6],[1,1.6],[6,1.6,1,1.6],[1,0]]},"legend":{"title":null,"orient":"none","legendX":-6,"legendY":168,"direction":"horizontal","columns":4,"labelExpr":"datum.label=='D'?'DQN':datum.label=='R'?'REINFORCE':datum.label=='P'?'PPO':'TS'"}}}}
]}],
"title":{"text":"(b) Higher context uncertainty, lower stochasticity in the dynamics.","orient":"bottom","font":"Liberation Serif","fontSize":19,"anchor":"middle","frame":"bounds","offset":9},
"resolve":{"scale":{"color":"independent","strokeDash":"independent"},"legend":{"color":"independent","strokeDash":"independent"}}},
{"vconcat":[{
"width":392,"height":123,
"title":{"text":"obs = LHD, σ = 0.8, a_hd = 0.2, σ_s = 20.0, a_de = 0.5"},
"data":{"name":"d"},
"transform":[{"fold":["D","R","P","T"],"as":["k","v"]}],
"encoding":{
"x":{"field":"e","type":"quantitative","scale":{"domain":[-75,1575],"nice":false,"zero":false},"axis":{"values":[0,200,400,600,800,1000,1200,1400],"title":"episode"}},
"y":{"field":"v","type":"quantitative","scale":{"domain":[0,3700],"nice":false},"axis":{"values":[0,1000,2000,3000],"title":"Average Return"}},
"color":{"field":"k","type":"nominal","scale":{"domain":["D","R","P","T"],"range":["#008000","#0000ff","#800080","#00bfbf"]},"legend":{"title":null,"orient":"none","legendX":-6,"legendY":168,"direction":"horizontal","columns":4,"labelExpr":"datum.label=='D'?'DQN':datum.label=='R'?'REINFORCE':datum.label=='P'?'PPO':'TS'"}}
},
"layer":[
{"mark":{"type":"line","strokeWidth":8,"opacity":0.38,"clip":true}},
{"mark":{"type":"line","strokeWidth":1.5,"clip":true},"encoding":{"strokeDash":{"field":"k","type":"nominal","scale":{"domain":["D","R","P","T"],"range":[[4,1.6],[1,1.6],[6,1.6,1,1.6],[1,0]]},"legend":{"title":null,"orient":"none","legendX":-6,"legendY":168,"direction":"horizontal","columns":4,"labelExpr":"datum.label=='D'?'DQN':datum.label=='R'?'REINFORCE':datum.label=='P'?'PPO':'TS'"}}}}
]}],
"title":{"text":"(d) Higher context uncertainty, higher stochasticity in the dynamics.","orient":"bottom","font":"Liberation Serif","fontSize":19,"anchor":"middle","frame":"bounds","offset":9},
"resolve":{"scale":{"color":"independent","strokeDash":"independent"},"legend":{"color":"independent","strokeDash":"independent"}}}
],"spacing":14,"resolve":{"scale":{"color":"independent","strokeDash":"independent"},"legend":{"color":"independent","strokeDash":"independent"}}}
],
"spacing":41,
"resolve":{"scale":{"color":"independent","strokeDash":"independent"},"legend":{"color":"independent","strokeDash":"independent"}},
"config":{
"font":"DejaVu Sans",
"view":{"stroke":"black","strokeWidth":1},
"axis":{"labelFont":"DejaVu Sans","labelFontSize":11,"labelColor":"black","titleFont":"DejaVu Sans","titleFontSize":13.5,"titleFontWeight":"normal","titleColor":"black","tickColor":"black","tickSize":3.5,"tickWidth":1,"domain":false,"gridColor":"#c8c8c8","gridWidth":1,"format":"d","labelPadding":2},
"axisX":{"titlePadding":3},
"axisY":{"titlePadding":6},
"title":{"font":"DejaVu Sans","fontSize":12.5,"fontWeight":"normal","color":"black","offset":6},
"legend":{"labelFont":"DejaVu Sans","labelFontSize":13,"labelColor":"black","symbolType":"M-1,0H3","symbolSize":196,"symbolStrokeWidth":1.2,"symbolOpacity":1,"labelOffset":25,"columnPadding":27,"padding":5,"strokeColor":"#cccccc","cornerRadius":3,"fillColor":"white"}
}
}
